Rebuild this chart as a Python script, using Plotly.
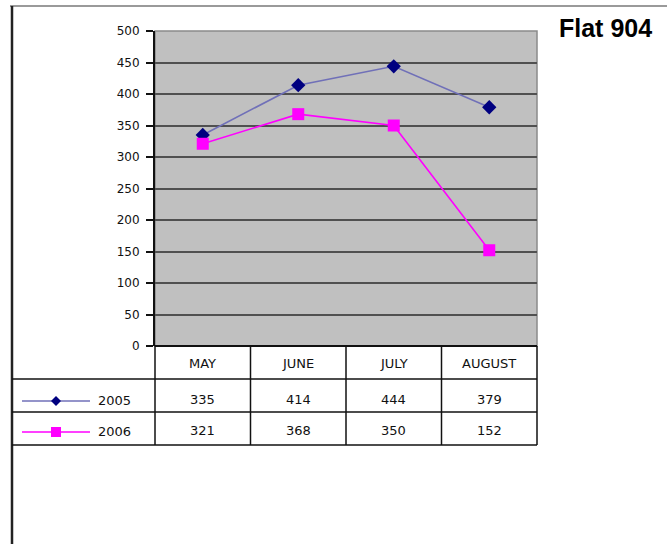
import plotly.graph_objects as go

months = ["MAY", "JUNE", "JULY", "AUGUST"]
series_names = ["2005", "2006"]
values_2005 = [335, 414, 444, 379]
values_2006 = [321, 368, 350, 152]
y_ticks = [0, 50, 100, 150, 200, 250, 300, 350, 400, 450, 500]
title_text = "Flat 904"

W, H = 667, 544
PX0, PX1, PY0, PY1 = 155, 537, 31, 346  # plot area in pixels


def px(x):
    return (x - PX0) / (PX1 - PX0)


def py(y):
    return (PY1 - y) / (PY1 - PY0)


FONT = "DejaVu Sans, Arial, sans-serif"
TFONT = "Liberation Sans, Arial, sans-serif"
line_cols = ["#7070B8", "#FF00FF"]
mark_cols = ["#000080", "#FF00FF"]
symbols = ["diamond", "square"]
msize = [11, 12]

fig = go.Figure()
for name, vals, lc, mc, sym, ms in zip(series_names, [values_2005, values_2006], line_cols, mark_cols, symbols, msize):
    fig.add_trace(go.Scatter(
        x=months, y=vals, mode="lines+markers", name=name,
        line=dict(color=lc, width=1.6),
        marker=dict(color=mc, symbol=sym, size=ms, line=dict(width=0)),
        showlegend=False, cliponaxis=False,
    ))

shapes = []
ann = []

# outer frame lines
shapes.append(dict(type="line", xref="paper", yref="paper", x0=px(10), x1=px(667), y0=py(6), y1=py(6),
                   line=dict(color="#9A9A9A", width=2)))
shapes.append(dict(type="line", xref="paper", yref="paper", x0=px(12), x1=px(12), y0=py(6), y1=py(544),
                   line=dict(color="#222222", width=2.5)))
# plot area border (gray right/top)
shapes.append(dict(type="rect", xref="paper", yref="paper", x0=0, x1=1, y0=0, y1=1,
                   line=dict(color="#8A8A8A", width=1.5), layer="below"))

# table geometry
col_edges = [PX0 + i * (PX1 - PX0) / len(months) for i in range(len(months) + 1)]
row_tops = [346, 379, 412, 445]
black = dict(color="#111111", width=1.5)
shapes.append(dict(type="line", xref="paper", yref="paper", x0=px(PX0), x1=px(PX1), y0=py(346), y1=py(346),
                   line=dict(color="#111111", width=2)))
for yv in row_tops[1:]:
    shapes.append(dict(type="line", xref="paper", yref="paper", x0=px(12), x1=px(PX1), y0=py(yv), y1=py(yv), line=black))
for xe in col_edges:
    shapes.append(dict(type="line", xref="paper", yref="paper", x0=px(xe), x1=px(xe), y0=py(346), y1=py(445), line=black))

# header texts
for i, m in enumerate(months):
    cx = (col_edges[i] + col_edges[i + 1]) / 2
    ann.append(dict(x=px(cx), y=py(363), xref="paper", yref="paper", text=m, showarrow=False,
                    font=dict(family=FONT, size=13, color="#111111"), xanchor="center", yanchor="middle"))
# values
for r, vals in enumerate([values_2005, values_2006]):
    ycen = [399, 430][r]
    for i, v in enumerate(vals):
        cx = (col_edges[i] + col_edges[i + 1]) / 2
        ann.append(dict(x=px(cx), y=py(ycen), xref="paper", yref="paper", text=str(v), showarrow=False,
                        font=dict(family=FONT, size=13, color="#111111"), xanchor="center", yanchor="middle"))
    # legend key
    shapes.append(dict(type="line", xref="paper", yref="paper", x0=px(22), x1=px(90), y0=py(ycen + 2), y1=py(ycen + 2),
                       line=dict(color=line_cols[r], width=1.6)))
    ann.append(dict(x=px(96), y=py(ycen + 1), xref="paper", yref="paper", text=series_names[r], showarrow=False,
                    font=dict(family=FONT, size=13, color="#111111"), xanchor="left", yanchor="middle"))
    cx, cy = 56, ycen + 2
    d = 5
    if r == 0:
        path = f"M {px(cx)} {py(cy - d)} L {px(cx + d)} {py(cy)} L {px(cx)} {py(cy + d)} L {px(cx - d)} {py(cy)} Z"
        shapes.append(dict(type="path", xref="paper", yref="paper", path=path,
                           fillcolor=mark_cols[0], line=dict(color=mark_cols[0], width=0)))
    else:
        shapes.append(dict(type="rect", xref="paper", yref="paper", x0=px(cx - d), x1=px(cx + d),
                           y0=py(cy - d), y1=py(cy + d), fillcolor=mark_cols[1], line=dict(width=0)))

# title
ann.append(dict(x=px(557), y=py(28), xref="paper", yref="paper", text="<b>" + title_text + "</b>", showarrow=False,
                font=dict(family=TFONT, size=25, color="#000000"), xanchor="left", yanchor="middle"))

fig.update_layout(
    width=W, height=H,
    margin=dict(l=PX0, r=W - PX1, t=PY0, b=H - PY1, pad=0),
    paper_bgcolor="white", plot_bgcolor="#C0C0C0",
    shapes=shapes, annotations=ann,
    xaxis=dict(type="category", range=[-0.5, len(months) - 0.5], showticklabels=False, showgrid=False,
               zeroline=False, showline=False, ticks=""),
    yaxis=dict(range=[0, 500], tickvals=y_ticks, ticktext=[str(t) for t in y_ticks],
               showgrid=True, gridcolor="#505050", gridwidth=2, zeroline=False,
               showline=True, linecolor="#111111", linewidth=2, ticks="outside", ticklen=7,
               tickcolor="#111111", tickwidth=1.5,
               tickfont=dict(family=FONT, size=12, color="#111111"), ticklabelstandoff=4),
)

fig.write_html("out.html")
